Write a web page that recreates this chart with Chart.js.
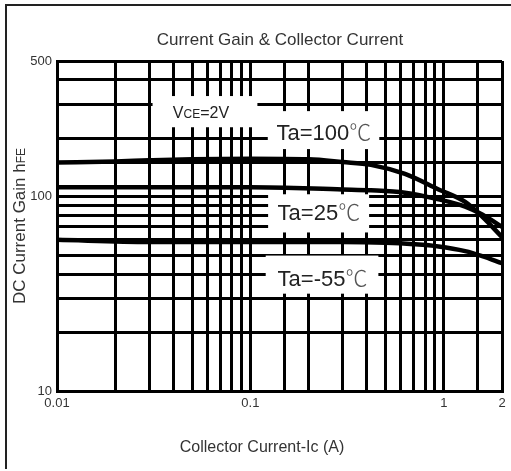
<!DOCTYPE html>
<html>
<head>
<meta charset="utf-8">
<script src="https://cdn.jsdelivr.net/npm/chart.js"></script>
<style>
  html, body { margin: 0; padding: 0; background: #fff; }
  #wrap { width: 511px; height: 471px; }
</style>
</head>
<body>
<div id="wrap"><canvas id="gainChart" width="511" height="471"></canvas></div>
<script>
// hFE, pour chaque température
const ic100 = [0.01, 0.02, 0.03, 0.05, 0.1, 0.2, 0.3, 0.42, 0.63, 0.94, 1.29, 1.58, 2];
const hfe100 = [150, 152, 154, 156, 157, 156, 151, 146, 131, 109, 94, 79, 62];
const ic25 = [0.01, 0.05, 0.1, 0.3, 0.42, 0.63, 0.94, 1.29, 1.58, 2];
const hfe25 = [112, 112, 112, 109, 108, 105, 97, 89, 81, 70];
const icM55 = [0.01, 0.03, 0.1, 0.3, 0.5, 0.7, 0.94, 1.29, 1.58, 2];
const hfeM55 = [60, 58.5, 58.5, 58.5, 58, 57, 55.5, 52.5, 49.5, 45.5];

// Graduations affichées
const xTickLabels = [0.01, 0.1, 1, 2];
const yTickLabels = [10, 100, 500];

const FONT = '"Liberation Sans", Arial, sans-serif';
const CJK = '"Noto Sans CJK SC", sans-serif';

// Etiquettes posées sur la grille (coordonnées en A / hFE)
const tags = [
    { text: 'Ta=100', x: 0.24, y: 215, box: [0.123, 0.464, 176, 276] },
    { text: 'Ta=25', x: 0.226, y: 83, box: [0.1235, 0.411, 65.5, 103] },
    { text: 'Ta=-55', x: 0.236, y: 38.4, box: [0.12, 0.459, 31.7, 49.8] }
];
const vceBox = [0.0312, 0.1087, 228, 330];

function toPoints(xs, ys) {
    return xs.map((x, i) => ({ x: x, y: ys[i] }));
}

function sameValue(v, list) {
    return list.some(t => Math.abs(v - t) / t < 1e-6);
}

const curve = {
    borderColor: '#000',
    borderWidth: 4.5,
    pointRadius: 0,
    fill: false,
    cubicInterpolationMode: 'monotone'
};

// Boîtes blanches + textes des courbes
const annotations = {
    id: 'annotations',
    beforeDatasetsDraw(chart) {
        const ctx = chart.ctx;
        const xs = chart.scales.x;
        const ys = chart.scales.y;
        ctx.save();
        ctx.fillStyle = '#fff';
        [vceBox].concat(tags.map(t => t.box)).forEach(b => {
            const x0 = xs.getPixelForValue(b[0]);
            const x1 = xs.getPixelForValue(b[1]);
            const y0 = ys.getPixelForValue(b[3]);
            const y1 = ys.getPixelForValue(b[2]);
            ctx.fillRect(x0, y0, x1 - x0, y1 - y0);
        });
        ctx.restore();
    },
    afterDatasetsDraw(chart) {
        const ctx = chart.ctx;
        const xs = chart.scales.x;
        const ys = chart.scales.y;
        ctx.save();
        ctx.textBaseline = 'alphabetic';
        ctx.textAlign = 'left';
        tags.forEach(t => {
            ctx.font = '22px ' + FONT;
            const w1 = ctx.measureText(t.text).width;
            ctx.font = '300 22px ' + CJK;
            const w2 = ctx.measureText('℃').width;
            const x0 = xs.getPixelForValue(t.x) - (w1 + w2) / 2;
            const yb = ys.getPixelForValue(t.y) + 8;
            ctx.fillStyle = '#222';
            ctx.font = '22px ' + FONT;
            ctx.fillText(t.text, x0, yb);
            ctx.fillStyle = '#555';
            ctx.font = '300 22px ' + CJK;
            ctx.fillText('℃', x0 + w1, yb);
        });

        // VCE=2V avec indice
        ctx.fillStyle = '#222';
        const bx = xs.getPixelForValue(vceBox[0]);
        const bx1 = xs.getPixelForValue(vceBox[1]);
        const by = (ys.getPixelForValue(vceBox[2]) + ys.getPixelForValue(vceBox[3])) / 2 + 6;
        const parts = [['V', 16], ['CE', 12], ['=2V', 16]];
        let w = 0;
        parts.forEach(p => { ctx.font = p[1] + 'px ' + FONT; w += ctx.measureText(p[0]).width; });
        let px = (bx + bx1) / 2 - w / 2 - 4;
        parts.forEach(p => {
            ctx.font = p[1] + 'px ' + FONT;
            ctx.fillText(p[0], px, by);
            px += ctx.measureText(p[0]).width;
        });
        ctx.restore();
    },
    afterDraw(chart) {
        const ctx = chart.ctx;
        const area = chart.chartArea;
        ctx.save();
        ctx.fillStyle = '#333';

        // Titre
        ctx.font = '17px ' + FONT;
        ctx.textAlign = 'center';
        ctx.textBaseline = 'middle';
        ctx.fillText('Current Gain & Collector Current', 280, 40);

        // Titre axe X
        ctx.font = '16px ' + FONT;
        ctx.fillText('Collector Current-Ic (A)', 262, 448);

        // Titre axe Y (hFE en indice)
        ctx.translate(19, (area.top + area.bottom) / 2);
        ctx.rotate(-Math.PI / 2);
        ctx.textAlign = 'left';
        ctx.textBaseline = 'alphabetic';
        const main = 'DC Current Gain h';
        ctx.font = '17px ' + FONT;
        const w1 = ctx.measureText(main).width;
        ctx.font = '12px ' + FONT;
        const w2 = ctx.measureText('FE').width;
        const start = -(w1 + w2) / 2;
        ctx.font = '17px ' + FONT;
        ctx.fillText(main, start, 6);
        ctx.font = '12px ' + FONT;
        ctx.fillText('FE', start + w1, 6);
        ctx.restore();

        // Cadre extérieur (haut et gauche)
        ctx.save();
        ctx.strokeStyle = '#222';
        ctx.lineWidth = 2;
        ctx.beginPath();
        ctx.moveTo(511, 5);
        ctx.lineTo(6, 5);
        ctx.lineTo(6, 469);
        ctx.stroke();
        ctx.restore();
    }
};

function initChart() {
    const ctx = document.getElementById('gainChart').getContext('2d');
    new Chart(ctx, {
        type: 'line',
        data: {
            datasets: [
                Object.assign({ label: 'Ta=100℃', data: toPoints(ic100, hfe100) }, curve),
                Object.assign({ label: 'Ta=25℃', data: toPoints(ic25, hfe25) }, curve),
                Object.assign({ label: 'Ta=-55℃', data: toPoints(icM55, hfeM55) }, curve)
            ]
        },
        options: {
            responsive: false,
            animation: false,
            layout: { padding: { left: 0, top: 61, right: 9, bottom: 0 } },
            plugins: {
                legend: { display: false },
                tooltip: { enabled: false }
            },
            scales: {
                x: {
                    type: 'logarithmic',
                    min: 0.01,
                    max: 2,
                    grid: { color: '#000', lineWidth: 3, drawTicks: false },
                    border: { color: '#000', width: 3 },
                    ticks: {
                        autoSkip: false,
                        maxRotation: 0,
                        padding: 5,
                        color: '#333',
                        font: { family: FONT, size: 13 },
                        callback: v => sameValue(v, xTickLabels) ? String(v) : ''
                    },
                    afterFit: s => { s.height = 80; }
                },
                y: {
                    type: 'logarithmic',
                    min: 10,
                    max: 500,
                    grid: { color: '#000', lineWidth: 3, drawTicks: false },
                    border: { color: '#000', width: 3 },
                    ticks: {
                        autoSkip: false,
                        padding: 5,
                        color: '#333',
                        font: { family: FONT, size: 13 },
                        callback: v => sameValue(v, yTickLabels) ? String(v) : ''
                    },
                    afterFit: s => { s.width = 57; }
                }
            }
        },
        plugins: [annotations]
    });
}

document.addEventListener('DOMContentLoaded', initChart);
</script>
</body>
</html>
